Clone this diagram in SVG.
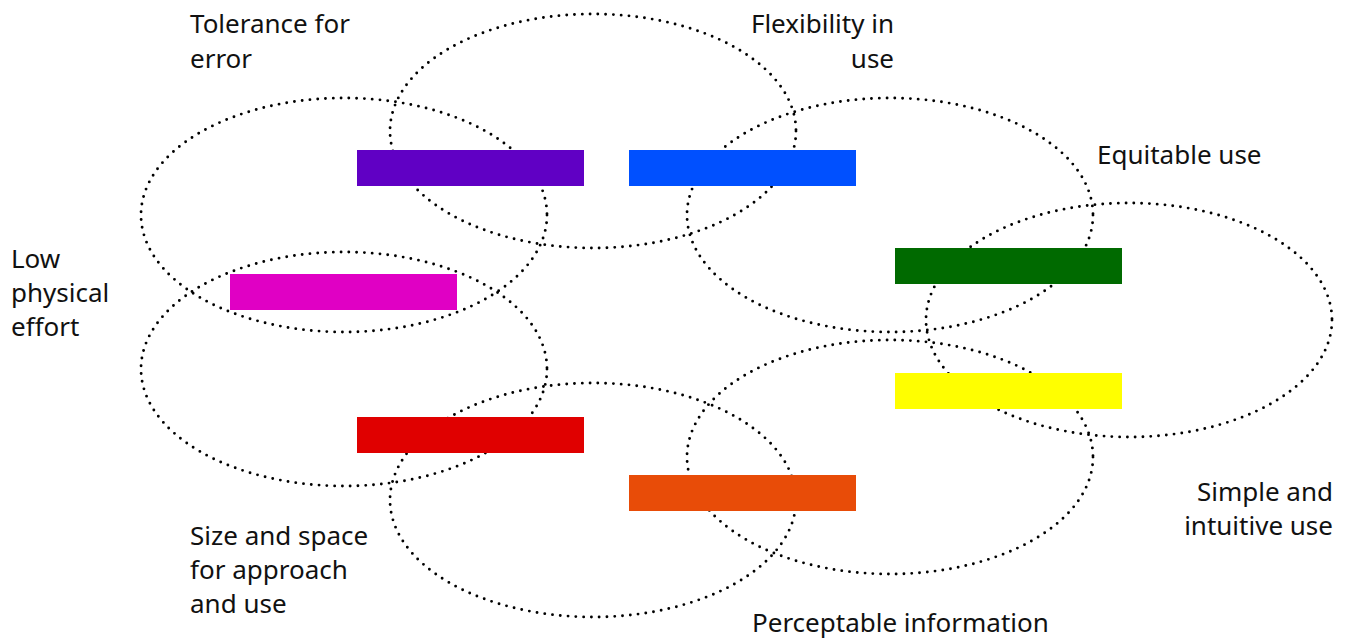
<svg xmlns="http://www.w3.org/2000/svg" width="1350" height="639" viewBox="0 0 1350 639">
<style>
.ring{fill:none;stroke:#000;stroke-width:2.9;stroke-linecap:round;stroke-dasharray:0 7.8}
.lbl{font-family:"Noto Sans","Open Sans","Liberation Sans",sans-serif;font-size:26px;fill:#111}
.end{text-anchor:end}
</style>
<rect width="1350" height="639" fill="#fff"/>
<g id="rings">
<ellipse class="ring" cx="593" cy="131" rx="203" ry="117"/>
<ellipse class="ring" cx="344" cy="215" rx="203" ry="117"/>
<ellipse class="ring" cx="890" cy="215" rx="203" ry="117"/>
<ellipse class="ring" cx="1129" cy="320" rx="203" ry="117"/>
<ellipse class="ring" cx="344" cy="369" rx="203" ry="117"/>
<ellipse class="ring" cx="593" cy="500" rx="203" ry="117"/>
<ellipse class="ring" cx="890" cy="457" rx="203" ry="117"/>
</g>
<g id="connectors"></g>
<g id="tolerance">
<rect x="357" y="150" width="227" height="36" fill="#6000c4"/>
<text class="lbl" x="190" y="33">Tolerance for</text>
<text class="lbl" x="190" y="68">error</text>
</g>
<g id="flexibility">
<rect x="629" y="150" width="227" height="36" fill="#0050ff"/>
<text class="lbl end" x="894" y="33">Flexibility in</text>
<text class="lbl end" x="894" y="68">use</text>
</g>
<g id="equitable">
<rect x="895" y="248" width="227" height="36" fill="#006a00"/>
<text class="lbl" x="1097" y="164">Equitable use</text>
</g>
<g id="physical">
<rect x="230" y="274" width="227" height="36" fill="#e000c4"/>
<text class="lbl" x="11" y="268">Low</text>
<text class="lbl" x="11" y="302">physical</text>
<text class="lbl" x="11" y="336">effort</text>
</g>
<g id="simple">
<rect x="895" y="373" width="227" height="36" fill="#ffff00"/>
<text class="lbl end" x="1333" y="501">Simple and</text>
<text class="lbl end" x="1333" y="535">intuitive use</text>
</g>
<g id="size">
<rect x="357" y="417" width="227" height="36" fill="#e00000"/>
<text class="lbl" x="190" y="545">Size and space</text>
<text class="lbl" x="190" y="579">for approach</text>
<text class="lbl" x="190" y="613">and use</text>
</g>
<g id="perceptable">
<rect x="629" y="475" width="227" height="36" fill="#e84c08"/>
<text class="lbl" x="752" y="632">Perceptable information</text>
</g>
</svg>
